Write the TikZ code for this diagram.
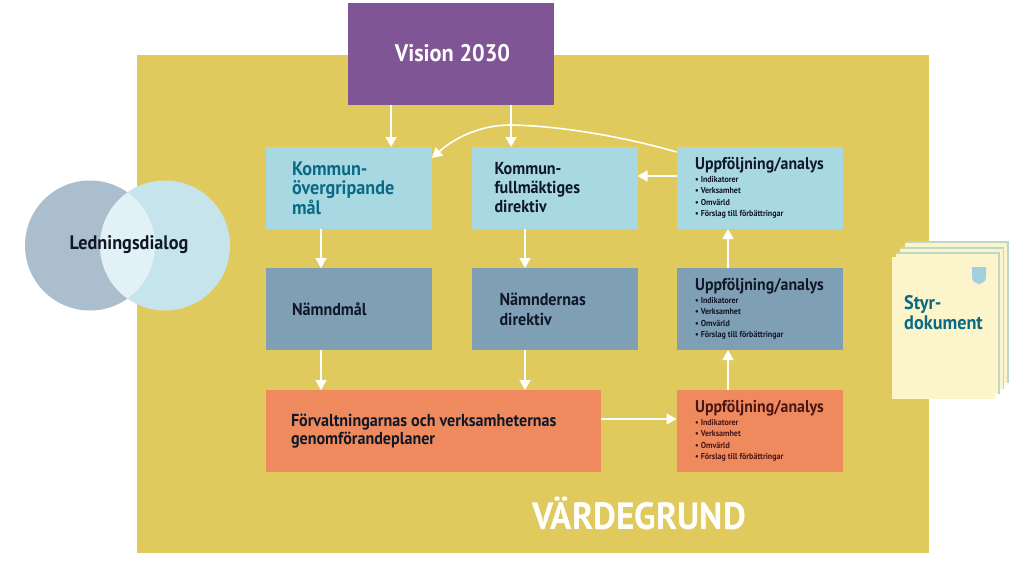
\documentclass[tikz,border=0pt]{standalone}
\usepackage{fontspec}
\setmainfont[FakeStretch=0.93]{PT Sans}
\usetikzlibrary{arrows.meta}
\definecolor{bg}{HTML}{E0CA5E}
\definecolor{purp}{HTML}{7F5595}
\definecolor{lblue}{HTML}{A8D8E2}
\definecolor{steel}{HTML}{7F9FB5}
\definecolor{orng}{HTML}{EF8A5F}
\definecolor{teal1}{HTML}{0A6A85}
\definecolor{ink}{HTML}{101828}
\definecolor{maroon1}{HTML}{4A1515}
\definecolor{circa}{HTML}{ABBECE}
\definecolor{circb}{HTML}{C5E4EC}
\definecolor{circc}{HTML}{E2F1F5}
\definecolor{paper}{HTML}{FCF5CB}
\definecolor{pedge}{HTML}{BFD8C6}
\definecolor{shield}{HTML}{A3CFE0}
\tikzset{
  box/.style={draw=none,minimum width=166pt,minimum height=82pt,inner sep=0pt,outer sep=0pt,font=\bfseries\fontsize{17.3}{19}\selectfont,text=ink,align=left},
  arr/.style={draw=white,line width=1.6pt,-{Triangle[width=11pt,length=10pt,fill=white]}},
}
\newcommand{\uppfbody}{\parbox{128pt}{\bfseries
\fontsize{17}{11}\selectfont\hbox{Uppföljning/analys}%
\fontsize{8.6}{11.3}\selectfont
\vskip 1.5pt
\hbox{\textbullet\ Indikatorer}
\hbox{\textbullet\ Verksamhet}
\hbox{\textbullet\ Omvärld}
\hbox{\textbullet\ Förslag till förbättringar}}}
\newcommand{\uppf}[1]{\raisebox{#1}{\uppfbody}}
\begin{document}
\begin{tikzpicture}[x=1pt,y=-1pt]
\useasboundingbox (0,0) rectangle (1024,575);
\fill[white] (0,0) rectangle (1024,575);
\fill[bg] (137,55) rectangle (929,553);
% circles
\fill[circa] (90,245.5) circle (65);
\fill[circb] (165,245.5) circle (65);
\begin{scope}
\clip (90,245.5) circle (65);
\fill[circc] (165,245.5) circle (65);
\end{scope}
\node[font=\bfseries\fontsize{19.6}{22}\selectfont,text=ink,inner sep=0pt] (led) at (129,245) {Ledningsdialog};
% document stack
\foreach \d/\e in {13.5/16,9/10,4.5/5}{
  \fill[pedge] (892+\d,257-\e) rectangle (995+\d,399-\e);
  \fill[paper] (892+\d-1,257-\e+1.5) rectangle (995+\d-1.5,399-\e);
}
\fill[paper] (892,257) rectangle (995,399);
\fill[shield] (972,267) -- (986,267) -- (986,278) .. controls (986,282) and (981,283) .. (979,284.5) .. controls (977,283) and (972,282) .. (972,278) -- cycle;
\node[anchor=west,align=left,inner sep=0pt,text=teal1,font=\bfseries\fontsize{19.6}{20}\selectfont] (styr) at (904,312.5) {Styr-\\dokument};
% boxes
\node[fill=purp,minimum width=206pt,minimum height=102pt,outer sep=0pt,text=white,font=\bfseries\fontsize{24}{28}\selectfont] (vision) at (451,54) {\hspace*{3pt}\raisebox{1.5pt}{Vision 2030}};
\node[box,fill=lblue,text=teal1,text width=114pt,font=\bfseries\fontsize{19.5}{19.5}\selectfont] (kt) at (349,188) {\raisebox{-1pt}{Kommun-}\\\raisebox{-1pt}{övergripande}\\\raisebox{-1pt}{mål}};
\node[box,fill=lblue,text width=120pt] (kd) at (554.5,188) {Kommun-\\fullmäktiges\\direktiv};
\node[box,fill=lblue] (u1) at (759.5,188) {\uppf{1.5pt}};
\node[box,fill=steel,text width=114pt] (nm) at (349,309) {Nämndmål};
\node[box,fill=steel,font=\bfseries\fontsize{17.3}{20}\selectfont] (nd) at (554.5,309) {\raisebox{-2pt}{\parbox{110pt}{Nämndernas\\direktiv}}};
\node[box,fill=steel] (u2) at (759.5,309) {\uppf{-1pt}};
\node[box,fill=orng,font=\bfseries\fontsize{17.3}{17.5}\selectfont] (fv) [minimum width=335pt] at (433.5,431) {\raisebox{-2.5pt}{\parbox{285pt}{Förvaltningarnas och verksamheternas\\genomförandeplaner}}};
\node[box,fill=orng,text=maroon1] (u3) at (759.5,431) {\uppf{1.5pt}};
\node[text=white,font=\bfseries\fontsize{38}{44}\selectfont,inner sep=0pt] (vg) at (639,513) {VÄRDEGRUND};
\coordinate (bend) at (511,125);
% arrows
\draw[arr] ([xshift=-60pt]vision.south) -- ([xshift=42pt]kt.north);
\draw[arr] ([xshift=60pt]vision.south) -- ([xshift=-43.5pt]kd.north);
\draw[arr] ([xshift=-28pt]kt.south) -- ([xshift=-28pt]nm.north);
\draw[arr] ([xshift=-29.5pt]kd.south) -- ([xshift=-29.5pt]nd.north);
\draw[arr] ([xshift=-28pt]nm.south) -- ([xshift=-112.5pt]fv.north);
\draw[arr] ([xshift=-29.5pt]nd.south) -- ([xshift=91.5pt]fv.north);
\draw[arr] ([yshift=12pt]fv.east) -- ([yshift=12pt]u3.west);
\draw[arr] ([xshift=-31.5pt]u3.north) -- ([xshift=-31.5pt]u2.south);
\draw[arr] ([xshift=-31.5pt]u2.north) -- ([xshift=-31.5pt]u1.south);
\draw[arr] ([yshift=12pt]u1.west) -- ([yshift=12pt]kd.east);
\draw[arr] ([yshift=36pt]u1.west) .. controls +(-37,-11) and +(59,1) .. (bend) .. controls +(-36,0) and +(18,-16) .. ([yshift=30pt]kt.east);
\end{tikzpicture}
\end{document}
